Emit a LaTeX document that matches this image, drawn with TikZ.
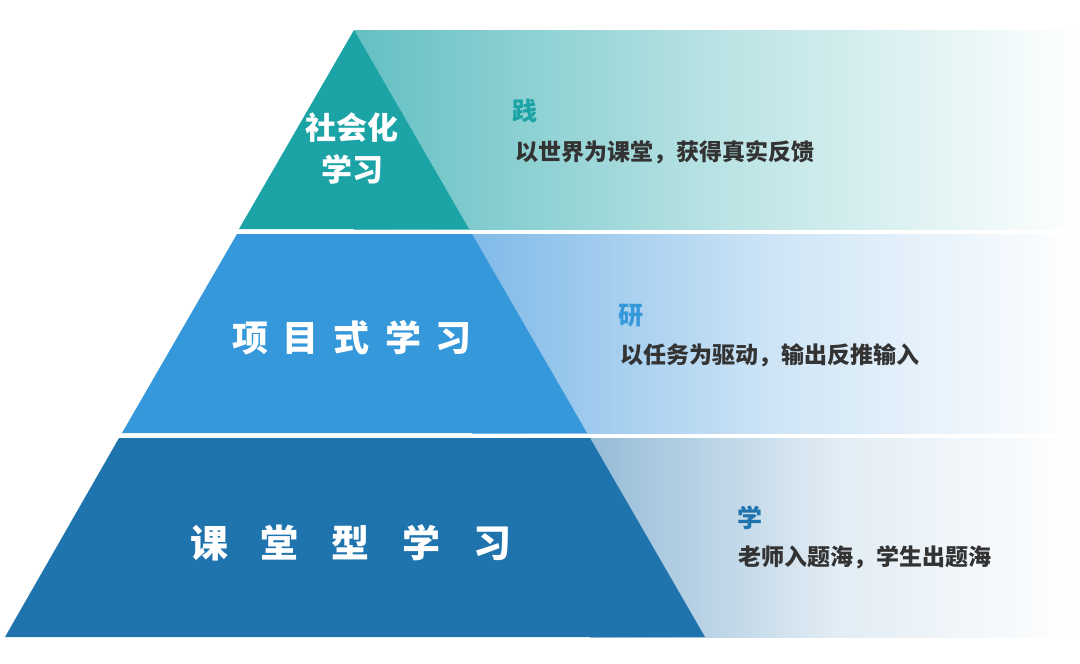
\documentclass[tikz,border=0pt]{standalone}
\usepackage{fontspec}
\setmainfont{Noto Sans CJK SC}
\definecolor{tealtop}{RGB}{27, 163, 166}
\definecolor{bluemid}{RGB}{53, 152, 219}
\definecolor{bluelow}{RGB}{31, 116, 173}
\definecolor{fadetop}{RGB}{100, 192, 195}
\definecolor{fademid}{RGB}{128, 186, 232}
\definecolor{fadelow}{RGB}{150, 188, 216}
\definecolor{textgray}{RGB}{51, 51, 51}
\usetikzlibrary{positioning}
\tikzset{
  layertitle/.style={text=white, font=\bfseries, align=center, inner sep=0pt},
  layerhead/.style={anchor=west, font=\fontsize{25}{25}\selectfont\bfseries, inner sep=0pt},
  layerdesc/.style={anchor=west, text=textgray, font=\fontsize{23}{23}\selectfont\bfseries, inner sep=0pt}
}

\begin{document}
\begin{tikzpicture}[x=1pt, y=-1pt]
  \useasboundingbox (0,0) rectangle (1080,664);

  % Fading bands behind the pyramid
  \shade[left color=fadetop, right color=white, middle color=fadetop!45!white] (354,30) rectangle (1080,229);
  \shade[left color=fademid, right color=white, middle color=fademid!38!white] (472,234) rectangle (1080,433);
  \shade[left color=fadelow, right color=white, middle color=fadelow!28!white] (590,438) rectangle (1080,637);

  % Pyramid layers
  \fill[tealtop] (354,30) -- (469,229) -- (239,229) -- cycle;
  \fill[bluemid] (237,234) -- (472,234) -- (587,433) -- (122,433) -- cycle;
  \fill[bluelow] (119,438) -- (590,438) -- (705,637) -- (5,637) -- cycle;

  % Layer titles
  \node[layertitle, font=\fontsize{31}{42}\selectfont\bfseries] (social) at (352,149) {社会化\\学习};
  \node[layertitle, font=\fontsize{36}{36}\selectfont\bfseries] (project) at (352,338)
    {项\hspace{15pt}目\hspace{15pt}式\hspace{15pt}学\hspace{15pt}习};
  \node[layertitle, font=\fontsize{38}{38}\selectfont\bfseries] (classroom) at (351,543)
    {课\hspace{33pt}堂\hspace{33pt}型\hspace{33pt}学\hspace{33pt}习};

  % Right side notes
  \node[layerhead, text=tealtop] (jian) at (512,111) {践};
  \node[layerdesc] (jiandesc) at (515,152) {以世界为课堂，获得真实反馈};

  \node[layerhead, text=bluemid] (yan) at (618,316) {研};
  \node[layerdesc] (yandesc) at (620,355) {以任务为驱动，输出反推输入};

  \node[layerhead, text=bluelow] (xue) at (737,518) {学};
  \node[layerdesc] (xuedesc) at (738,557) {老师入题海，学生出题海};
\end{tikzpicture}
\end{document}
